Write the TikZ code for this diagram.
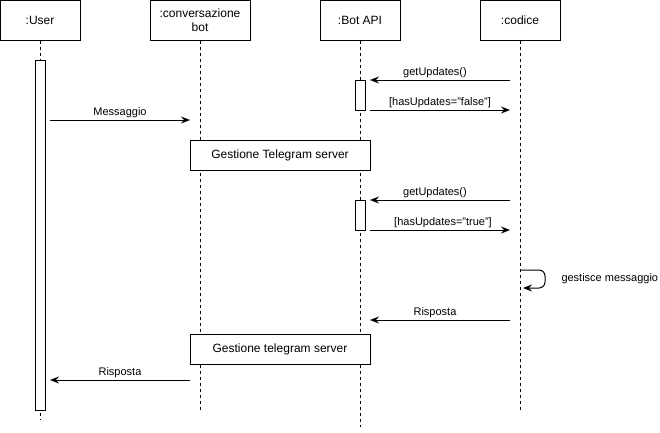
\documentclass[tikz,border=0pt]{standalone}
\usepackage{fontspec}
\setmainfont{Liberation Sans}
\usetikzlibrary{arrows.meta}
\begin{document}
\begin{tikzpicture}[x=1pt,y=-1pt, line width=1pt,
  obj/.style={draw, minimum width=80pt, minimum height=40pt, inner sep=0pt, font=\fontsize{12}{14}\selectfont, align=center},
  life/.style={line width=1pt, dash pattern=on 3pt off 3pt},
  act/.style={draw, fill=white, minimum width=10pt, inner sep=0pt},
  msg/.style={-{Stealth[length=9pt,width=7pt,inset=3pt]}},
  lbl/.style={font=\fontsize{11}{13}\selectfont, inner sep=0pt, anchor=base},
  frag/.style={draw, fill=white, minimum width=180pt, minimum height=30pt, inner sep=0pt, font=\fontsize{12}{14}\selectfont}]
\useasboundingbox (0,0) rectangle (660,432);

% objects
\node[obj] (user) at (40,20) {:User};
\node[obj, minimum width=100pt] (conv) at (200,20) {:conversazione\\bot};
\node[obj] (api) at (360,20) {:Bot API};
\node[obj] (cod) at (520,20) {:codice};

% lifeline ends
\coordinate (userE) at (40,420);
\coordinate (convE) at (200,410);
\coordinate (apiE) at (360,427);
\coordinate (codE) at (520,410);
\draw[life] (user.south) -- (userE);
\draw[life] (conv.south) -- (convE);
\draw[life] (api.south) -- (apiE);
\draw[life] (cod.south) -- (codE);

% activations
\node[act, minimum height=350pt] (uact) at (40,235) {};
\node[act, minimum height=30pt] (a1) at (360,95) {};
\node[act, minimum height=30pt] (a2) at (360,215) {};

% fragments
\node[frag] (g1) at (280,155) {Gestione Telegram server};
\node[frag] (g2) at (280,349.5) {Gestione telegram server};

% message endpoints
\coordinate (c1) at (510,80);  \coordinate (b1) at (370,80);
\coordinate (b2) at (370,110); \coordinate (c2) at (510,110);
\coordinate (u1) at (50,120);  \coordinate (v1) at (190,120);
\coordinate (c3) at (510,200); \coordinate (b3) at (370,200);
\coordinate (b4) at (370,230); \coordinate (c4) at (510,230);
\coordinate (s0) at (520,270); \coordinate (s1) at (545,270);
\coordinate (s2) at (545,288); \coordinate (s3) at (523,288);
\coordinate (c5) at (510,320); \coordinate (b5) at (370,320);
\coordinate (v2) at (190,380); \coordinate (u2) at (50,380);

\draw[msg] (c1) -- node[lbl, yshift=5pt, xshift=-5pt] {getUpdates()} (b1);
\draw[msg] (b2) -- node[lbl, yshift=5pt] {[hasUpdates="false"]} (c2);
\draw[msg] (u1) -- node[lbl, yshift=5pt] {Messaggio} (v1);
\draw[msg] (c3) -- node[lbl, yshift=5pt, xshift=-5pt] {getUpdates()} (b3);
\draw[msg] (b4) -- node[lbl, yshift=5pt, xshift=3pt] {[hasUpdates="true"]} (c4);
\draw[msg, rounded corners=6pt] (s0) -- (s1) -- (s2) -- (s3);
\node[font=\fontsize{11}{13}\selectfont, inner sep=0pt, anchor=west] (slbl) at (561,279) {gestisce messaggio};
\draw[msg] (c5) -- node[lbl, yshift=5pt, xshift=-5pt] {Risposta} (b5);
\draw[msg] (v2) -- node[lbl, yshift=5pt] {Risposta} (u2);
\end{tikzpicture}
\end{document}
